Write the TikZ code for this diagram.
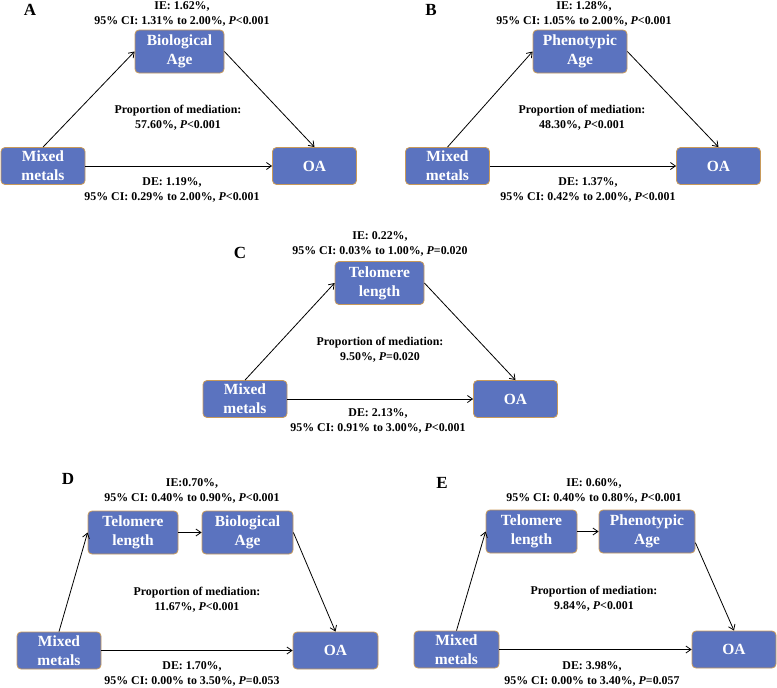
\documentclass[tikz,border=0pt]{standalone}
\usepackage{fontspec}
\setmainfont{Liberation Serif}
\usetikzlibrary{arrows.meta}

\definecolor{boxblue}{HTML}{5B73BF}
\definecolor{boxedge}{HTML}{C89A5A}

\begin{document}
\begin{tikzpicture}[x=1pt, y=-1pt, >={Straight Barb[length=5pt,width=7pt]},
    font=\bfseries\fontsize{11.9}{15}\selectfont]
  \tikzset{
    medbox/.style={
      rectangle,
      rounded corners=4pt,
      draw=boxedge,
      fill=boxblue,
      text=white,
      line width=0.8pt,
      minimum width=89pt,
      minimum height=43pt,
      align=center,
      inner sep=1pt,
      font=\bfseries\fontsize{15.5}{19}\selectfont},
    endbox/.style={
      medbox,
      minimum width=84pt,
      minimum height=37pt},
    note/.style={
      align=center,
      inner sep=0pt},
    panel/.style={
      inner sep=0pt,
      font=\bfseries\fontsize{17}{17}\selectfont},
    link/.style={->, line width=0.8pt}}

  \useasboundingbox (0,0) rectangle (777,688);

  % Panel A
  \node[panel] (labA) at (30,10) {A};
  \node[medbox] (bioA) at (179.5,51.5) {Biological\\Age};
  \node[endbox] (mixA) at (43,166) {Mixed\\metals};
  \node[endbox] (oaA) at (314.5,166) {OA};
  \node[note] (ieA) at (182,13.5) {IE: 1.62\%,\\95\% CI: 1.31\% to 2.00\%, \textit{P}<0.001};
  \node[note] (propA) at (178,118) {Proportion of mediation:\\57.60\%, \textit{P}<0.001};
  \node[note] (deA) at (172,189.5) {DE: 1.19\%,\\95\% CI: 0.29\% to 2.00\%, \textit{P}<0.001};
  \draw[link] (mixA.north) -- (bioA.west);
  \draw[link] (bioA.east) -- (oaA.north);
  \draw[link] (mixA.east) -- (oaA.west);

  % Panel B
  \node[panel] (labB) at (431,10) {B};
  \node[medbox, minimum width=94pt] (phenoB) at (580,51.5) {Phenotypic\\Age};
  \node[endbox] (mixB) at (447.5,166) {Mixed\\metals};
  \node[endbox] (oaB) at (718.5,166) {OA};
  \node[note] (ieB) at (584,13.5) {IE: 1.28\%,\\95\% CI: 1.05\% to 2.00\%, \textit{P}<0.001};
  \node[note] (propB) at (582,118) {Proportion of mediation:\\48.30\%, \textit{P}<0.001};
  \node[note] (deB) at (588,189.5) {DE: 1.37\%,\\95\% CI: 0.42\% to 2.00\%, \textit{P}<0.001};
  \draw[link] (mixB.north) -- (phenoB.west);
  \draw[link] (phenoB.east) -- (oaB.north);
  \draw[link] (mixB.east) -- (oaB.west);

  % Panel C
  \node[panel] (labC) at (240,253) {C};
  \node[medbox] (telC) at (379.5,283) {Telomere\\length};
  \node[endbox] (mixC) at (245,399) {Mixed\\metals};
  \node[endbox] (oaC) at (515.5,399) {OA};
  \node[note] (ieC) at (380,243.5) {IE: 0.22\%,\\95\% CI: 0.03\% to 1.00\%, \textit{P}=0.020};
  \node[note] (propC) at (380,350) {Proportion of mediation:\\9.50\%, \textit{P}=0.020};
  \node[note] (deC) at (378,420.5) {DE: 2.13\%,\\95\% CI: 0.91\% to 3.00\%, \textit{P}<0.001};
  \draw[link] (mixC.north) -- (telC.west);
  \draw[link] (telC.east) -- (oaC.north);
  \draw[link] (mixC.east) -- (oaC.west);

  % Panel D
  \node[panel] (labD) at (68,479) {D};
  \node[medbox, minimum width=90pt] (telD) at (133,532.5) {Telomere\\length};
  \node[medbox, minimum width=91pt] (bioD) at (247.5,532.5) {Biological\\Age};
  \node[endbox] (mixD) at (59,650.5) {Mixed\\metals};
  \node[endbox, minimum width=85pt] (oaD) at (335.5,650.5) {OA};
  \node[note] (ieD) at (192,491) {IE:0.70\%,\\95\% CI: 0.40\% to 0.90\%, \textit{P}<0.001};
  \node[note] (propD) at (197,600) {Proportion of mediation:\\11.67\%, \textit{P}<0.001};
  \node[note] (deD) at (192,673.5) {DE: 1.70\%,\\95\% CI: 0.00\% to 3.50\%, \textit{P}=0.053};
  \draw[link] (mixD.north) -- (telD.west);
  \draw[link] (telD.east) -- (bioD.west);
  \draw[link] (bioD.east) -- (oaD.north);
  \draw[link] (mixD.east) -- (oaD.west);

  % Panel E
  \node[panel] (labE) at (442,483) {E};
  \node[medbox, minimum width=91pt] (telE) at (531.5,531.5) {Telomere\\length};
  \node[medbox, minimum width=96pt] (phenoE) at (647,531.5) {Phenotypic\\Age};
  \node[endbox, minimum width=85pt] (mixE) at (456.5,649.5) {Mixed\\metals};
  \node[endbox] (oaE) at (734,649.5) {OA};
  \node[note] (ieE) at (594,491) {IE: 0.60\%,\\95\% CI: 0.40\% to 0.80\%, \textit{P}<0.001};
  \node[note] (propE) at (594,599) {Proportion of mediation:\\9.84\%, \textit{P}<0.001};
  \node[note] (deE) at (592,673.5) {DE: 3.98\%,\\95\% CI: 0.00\% to 3.40\%, \textit{P}=0.057};
  \draw[link] (mixE.north) -- (telE.west);
  \draw[link] (telE.east) -- (phenoE.west);
  \draw[link] (phenoE.-13) -- (oaE.north);
  \draw[link] (mixE.east) -- (oaE.west);

\end{tikzpicture}
\end{document}
